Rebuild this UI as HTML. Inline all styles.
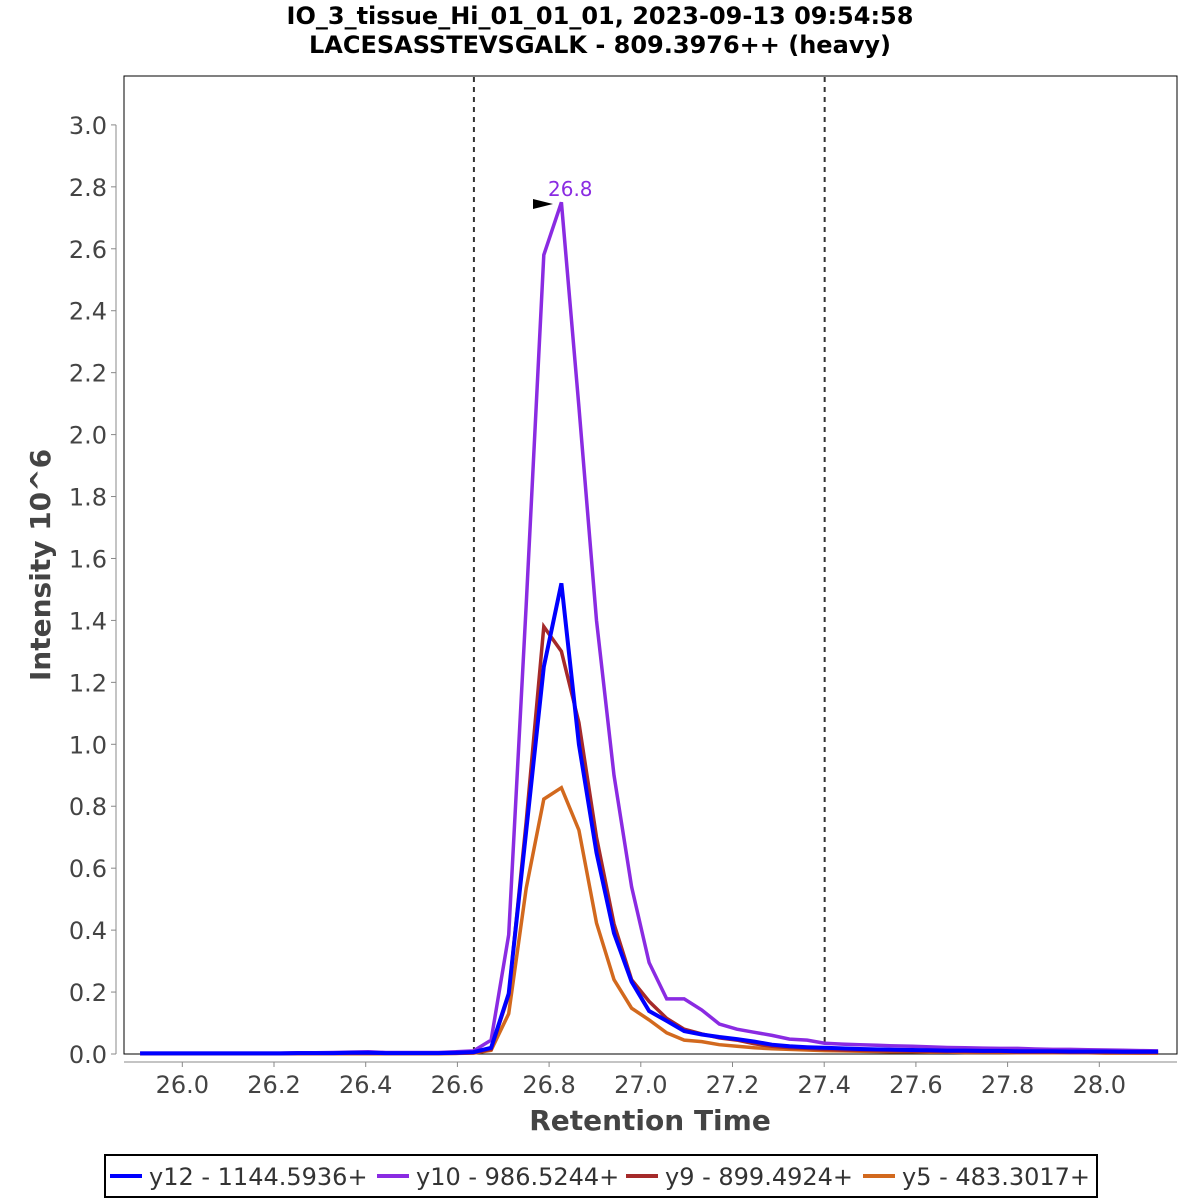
<!DOCTYPE html>
<html><head><meta charset="utf-8"><style>
body{margin:0;background:#fff;overflow:hidden;}
svg{display:block;}
</style></head><body>
<svg id="chart" width="1200" height="1200" xmlns="http://www.w3.org/2000/svg" font-family="DejaVu Sans, sans-serif">
<text x="600" y="24" text-anchor="middle" font-size="24" font-weight="bold">IO_3_tissue_Hi_01_01_01, 2023-09-13 09:54:58</text>
<text x="600" y="53" text-anchor="middle" font-size="24" font-weight="bold">LACESASSTEVSGALK - 809.3976++ (heavy)</text>
<rect x="124" y="76" width="1053" height="978" fill="#fff" stroke="#000" stroke-width="1"/>
<g id="yaxis"></g>
<g id="xaxis"></g>
<g id="bounds"></g>
<g id="series"></g>
<text transform="translate(50,565) rotate(-90)" text-anchor="middle" font-size="28" font-weight="bold" fill="#444">Intensity 10^6</text>
<text x="650" y="1130" text-anchor="middle" font-size="28" font-weight="bold" fill="#444">Retention Time</text>
<g>
<rect x="105" y="1155" width="992" height="42" fill="#fff" stroke="#000" stroke-width="2"/>
<g id="legend"></g>
</g>
<polygon points="533,199 533,209 553,204" fill="#000"/>
<text x="548" y="196" font-size="20" fill="#8a2be2">26.8</text>
</svg>
<script>
const seriesNames=["y12 - 1144.5936+","y10 - 986.5244+","y9 - 899.4924+","y5 - 483.3017+"];
const seriesColors=["#0000ff","#8a2be2","#a52a2a","#d2691e"];
const startTime=25.908, scanStep=0.03828;
const y12=[0.002,0.002,0.002,0.002,0.002,0.002,0.002,0.002,0.002,0.003,0.003,0.003,0.004,0.004,0.003,0.003,0.003,0.003,0.004,0.006,0.02,0.195,0.72,1.25,1.52,1.0,0.65,0.39,0.233,0.139,0.107,0.074,0.063,0.055,0.048,0.04,0.03,0.025,0.022,0.02,0.018,0.016,0.015,0.014,0.013,0.012,0.011,0.011,0.01,0.01,0.009,0.009,0.009,0.008,0.008,0.008,0.007,0.007,0.007];
const y10=[0.003,0.003,0.003,0.003,0.003,0.003,0.003,0.003,0.003,0.004,0.004,0.005,0.006,0.007,0.005,0.005,0.005,0.005,0.007,0.01,0.045,0.385,1.45,2.58,2.75,2.09,1.40,0.90,0.54,0.295,0.178,0.178,0.142,0.097,0.08,0.07,0.06,0.048,0.045,0.035,0.032,0.03,0.028,0.026,0.025,0.023,0.021,0.02,0.019,0.018,0.018,0.016,0.015,0.015,0.014,0.013,0.012,0.011,0.01];
const y9=[0.001,0.001,0.001,0.001,0.001,0.001,0.001,0.001,0.001,0.002,0.002,0.002,0.002,0.002,0.002,0.002,0.002,0.002,0.002,0.004,0.015,0.19,0.75,1.38,1.30,1.07,0.70,0.42,0.24,0.17,0.115,0.08,0.065,0.052,0.045,0.033,0.025,0.02,0.018,0.015,0.013,0.012,0.011,0.01,0.009,0.009,0.008,0.008,0.007,0.007,0.006,0.006,0.006,0.005,0.005,0.005,0.005,0.004,0.004];
const y5=[0.001,0.001,0.001,0.001,0.001,0.001,0.001,0.001,0.001,0.001,0.001,0.001,0.001,0.001,0.001,0.001,0.001,0.001,0.002,0.003,0.012,0.13,0.535,0.823,0.86,0.723,0.423,0.24,0.148,0.11,0.068,0.045,0.04,0.03,0.025,0.02,0.017,0.015,0.013,0.011,0.01,0.009,0.008,0.007,0.007,0.006,0.006,0.005,0.005,0.005,0.004,0.004,0.004,0.004,0.004,0.003,0.003,0.003,0.003];
const yTicks=["0.0","0.2","0.4","0.6","0.8","1.0","1.2","1.4","1.6","1.8","2.0","2.2","2.4","2.6","2.8","3.0"];
const xTicks=["26.0","26.2","26.4","26.6","26.8","27.0","27.2","27.4","27.6","27.8","28.0"];
const boundaries=[26.636,27.401];
const NS="http://www.w3.org/2000/svg";
function X(t){return 182.3+(t-26)*458.5;}
function Y(v){return 1054-v*309.7;}
function mk(tag,attrs,parent){const e=document.createElementNS(NS,tag);for(const k in attrs)e.setAttribute(k,attrs[k]);parent.appendChild(e);return e;}
const ya=document.getElementById('yaxis');
mk('line',{x1:116,y1:Y(0),x2:116,y2:Y(3),stroke:'#888','stroke-width':1},ya);
yTicks.forEach(s=>{const v=parseFloat(s);
 const l=mk('line',{x1:111,y1:Y(v),x2:116,y2:Y(v),stroke:'#888'},ya);
 
 
 const t=mk('text',{x:107,y:Y(v)+9,'text-anchor':'end','font-size':24,fill:'#444'},ya);
 t.textContent=s;
 
 
});
const xa=document.getElementById('xaxis');
mk('line',{x1:124,y1:1062,x2:1177,y2:1062,stroke:'#888'},xa);
xTicks.forEach(s=>{const v=parseFloat(s);
 const l=mk('line',{x1:X(v),y1:1062,x2:X(v),y2:1067,stroke:'#888'},xa);
 
 
 const t=mk('text',{x:X(v),y:1093,'text-anchor':'middle','font-size':24,fill:'#444'},xa);
 t.textContent=s;
 
 
});
const bg=document.getElementById('bounds');
boundaries.forEach(b=>{const l=mk('line',{x1:X(b),y1:77,x2:X(b),y2:1053,stroke:'#333','stroke-width':2,'stroke-dasharray':'5,5'},bg);
 
 });
const sg=document.getElementById('series');
const data=[y12,y10,y9,y5];
const order=[3,2,1,0];
order.forEach(k=>{const arr=data[k];
 const pts=arr.map((v,i)=>X(startTime+i*scanStep).toFixed(1)+','+Y(v).toFixed(1)).join(' ');
 const p=mk('polyline',{points:pts,fill:'none',stroke:seriesColors[k],'stroke-width':k==0?4:3.5,'stroke-linejoin':'miter'},sg);
 
 
});
const lg=document.getElementById('legend');
const lx=[110,377,626,863];
seriesNames.forEach((n,k)=>{
 const l=mk('line',{x1:lx[k],y1:1176,x2:lx[k]+32,y2:1176,stroke:seriesColors[k],'stroke-width':4},lg);
 
 
 const t=mk('text',{x:lx[k]+39,y:1185,'font-size':24,fill:'#333'},lg);
 t.textContent=n;
 
 
});
</script>
</body></html>
